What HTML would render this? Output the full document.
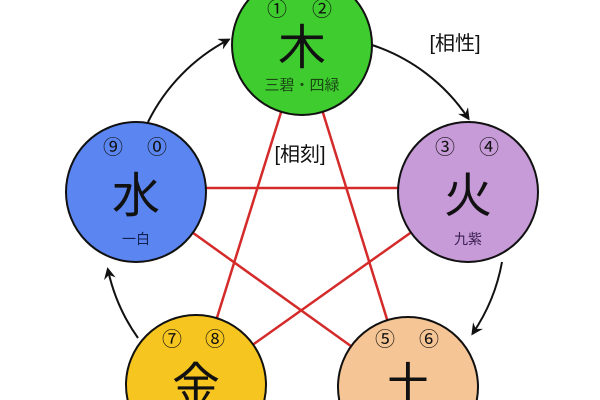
<!DOCTYPE html>
<html><head><meta charset="utf-8"><style>
html,body{margin:0;padding:0;background:#fff;width:600px;height:400px;overflow:hidden}
svg{display:block}
text{font-family:"Liberation Sans","Noto Sans CJK JP",sans-serif}
</style></head><body>
<svg width="600" height="400" viewBox="0 0 600 400">
<defs><marker id="a" markerWidth="12" markerHeight="12" refX="9" refY="6" orient="auto" markerUnits="userSpaceOnUse"><path d="M0,0 L12,6 L0,12 L4,6 Z" fill="#111"/></marker></defs>
<g stroke="#111" stroke-width="2" fill="none">
<path d="M148,122 A185,185 0 0 1 228,40" marker-end="url(#a)"/>
<path d="M372,45 A185,185 0 0 1 468,118" marker-end="url(#a)"/>
<path d="M502,262 A185,185 0 0 1 473,333" marker-end="url(#a)"/>
<path d="M138,338 A185,185 0 0 1 108,270" marker-end="url(#a)"/>
</g>
<g stroke="#d42a2a" stroke-width="2.5">
<line x1="136" y1="188" x2="468" y2="188"/>
<line x1="302" y1="45" x2="196" y2="385"/>
<line x1="302" y1="45" x2="408" y2="387"/>
<line x1="136" y1="192" x2="408" y2="387"/>
<line x1="468" y1="192" x2="196" y2="385"/>
</g>
<g stroke="#111" stroke-width="2">
<circle cx="302" cy="45" r="70" fill="#3fcc2f"/>
<circle cx="468" cy="192" r="70" fill="#c79ad8"/>
<circle cx="136" cy="192" r="70" fill="#5b85f0"/>
<circle cx="196" cy="385" r="70" fill="#f7c51f"/>
<circle cx="408" cy="387" r="70" fill="#f6c595"/>
</g>
<g text-anchor="middle" fill="#111">
<text x="277" y="16" font-size="20">①</text><text x="322" y="16" font-size="20">②</text>
<text x="302" y="64" font-size="48">木</text>
<text x="302" y="90" font-size="15" fill="#1a4a14">三碧・四緑</text>
<text x="445" y="154" font-size="20">③</text><text x="489" y="154" font-size="20">④</text>
<text x="468" y="212" font-size="48">火</text>
<text x="468" y="244" font-size="14" fill="#3a2050">九紫</text>
<text x="113" y="154" font-size="20">⑨</text><text x="157" y="154" font-size="20">⓪</text>
<text x="136" y="212" font-size="48">水</text>
<text x="136" y="244" font-size="14" fill="#102050">一白</text>
<text x="172" y="346" font-size="20">⑦</text><text x="215" y="346" font-size="20">⑧</text>
<text x="196" y="402" font-size="48">金</text>
<text x="385" y="346" font-size="20">⑤</text><text x="429" y="346" font-size="20">⑥</text>
<text x="408" y="402" font-size="48">土</text>
<text x="455" y="50" font-size="20">[相性]</text>
<text x="300" y="161" font-size="20">[相刻]</text>
</g>
</svg>
</body></html>
